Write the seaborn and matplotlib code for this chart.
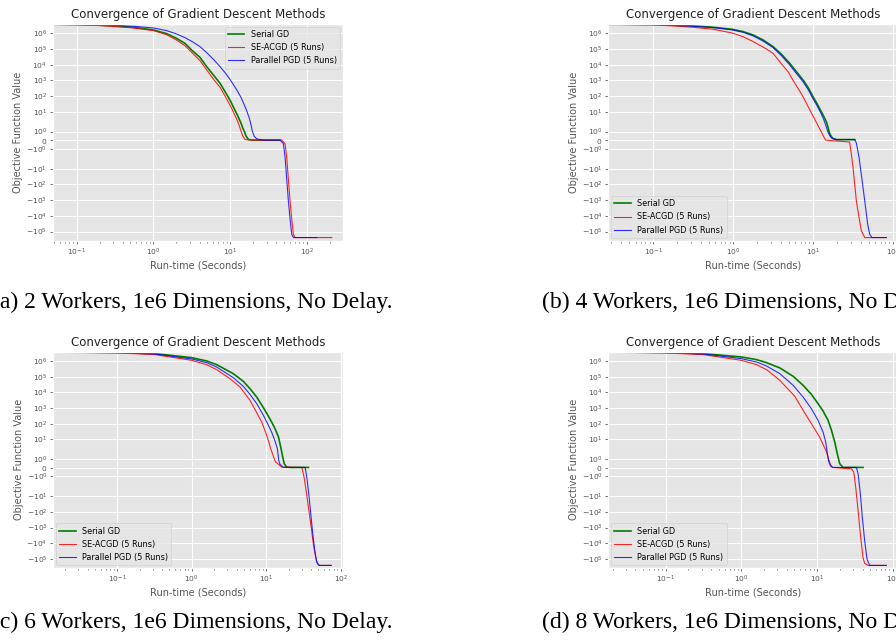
import matplotlib
matplotlib.use("Agg")
import matplotlib.pyplot as plt
import seaborn as sns

plt.style.use("ggplot")
plt.rcParams["font.family"] = ["DejaVu Sans"]

TITLE = "Convergence of Gradient Descent Methods"
XLABEL = "Run-time (Seconds)"
YLABEL = "Objective Function Value"
METHODS = ["Serial GD", "SE-ACGD (5 Runs)", "Parallel PGD (5 Runs)"]
CAPTIONS = ["(a) 2 Workers, 1e6 Dimensions, No Delay.",
            "(b) 4 Workers, 1e6 Dimensions, No Delay.",
            "(c) 6 Workers, 1e6 Dimensions, No Delay.",
            "(d) 8 Workers, 1e6 Dimensions, No Delay."]

# ---- panel (a): 2 workers ----
a_serial_t = [0.0487, 0.1, 0.201, 0.316, 0.548, 1.0, 1.49, 2.0, 2.58, 3.16, 4.06, 4.97, 6.08, 7.43, 8.62,
              10.0, 11.3, 12.5, 13.9, 14.7, 15.4, 16.2, 17.4, 20.1, 44.8]
a_serial_v = [3.7e6, 3.57e6, 3.24e6, 2.94e6, 2.41e6, 1.63e6, 9.5e5, 4.8e5, 2.3e5, 8.6e4, 2.9e4, 7.4e3, 2.19e3,
              644, 189, 55.6, 16.3, 6.1, 1.96, 1.37, 0.98, 0.47, 0.08, 0.02, 0.02]
a_seacgd_t = [0.0487, 0.1, 0.201, 0.316, 0.548, 1.0, 1.49, 2.0, 2.58, 3.16, 4.06, 4.97, 6.08, 7.43, 8.62,
              10.0, 11.3, 12.5, 13.3, 13.9, 14.7, 15.7, 20.1, 47.2, 52.2, 54.8, 57.6, 60.6, 63.7, 67.0, 70.5, 212]
a_seacgd_v = [3.7e6, 3.4e6, 3.1e6, 2.67e6, 2.19e6, 1.48e6, 8.2e5, 3.75e5, 1.63e5, 6.1e4, 1.8e4, 4.6e3, 1.2e3,
              357, 100, 26.7, 7.8, 2.67, 1.57, 1.06, 0.47, 0.08, 0.02, 0.02, -0.39, -1.96, -46, -1110, -1.6e4,
              -1.49e5, -2.4e5, -2.4e5]
a_ppgd_t = [0.0487, 0.1, 0.201, 0.316, 0.548, 1.0, 1.49, 2.0, 2.58, 3.16, 4.06, 4.97, 6.08, 7.43, 8.62,
            10.0, 11.3, 12.5, 13.9, 15.2, 16.5, 17.9, 18.8, 19.5, 20.6, 22.3, 27.2, 44.8, 49.6, 52.2, 54.8,
            57.6, 60.6, 63.7, 67.0, 135]
a_ppgd_v = [3.7e6, 3.68e6, 3.57e6, 3.24e6, 2.8e6, 2.19e6, 1.48e6, 9.1e5, 5.3e5, 3.1e5, 1.41e5, 5.8e4, 2.19e4,
            7.4e3, 3.1e3, 1.16e3, 457, 208, 82, 30.8, 11.6, 3.75, 1.76, 1.06, 0.47, 0.16, 0.02, 0.02, -0.39,
            -1.96, -46, -1110, -1.6e4, -1.49e5, -2.4e5, -2.4e5]

# ---- panel (b): 4 workers ----
b_serial_t = [0.0274, 0.1, 0.178, 0.316, 0.562, 0.97, 1.33, 1.78, 2.37, 3.16, 4.02, 5.11, 6.19, 7.5, 8.66,
              10.0, 11.3, 12.7, 13.7, 14.7, 15.4, 15.85, 16.5, 17.5, 19.6, 33.2]
b_serial_v = [3.7e6, 3.57e6, 3.24e6, 2.94e6, 2.41e6, 1.8e6, 1.28e6, 7.8e5, 3.75e5, 1.41e5, 4.6e4, 1.22e4,
              3.6e3, 1.05e3, 357, 91, 30.8, 10, 4.8, 2.3, 1.49, 0.98, 0.59, 0.24, 0.08, 0.08]
b_seacgd_t = [0.0274, 0.1, 0.178, 0.316, 0.562, 0.97, 1.33, 1.78, 2.61, 3.16, 4.1, 4.87, 5.62, 6.49, 7.5,
              8.66, 10.0, 11.3, 12.7, 13.7, 14.4, 28.7, 30.1, 31.6, 34.8, 37.6, 40.2, 44.3, 82.5]
b_seacgd_v = [3.7e6, 3.4e6, 2.94e6, 2.41e6, 1.8e6, 1.05e6, 6.1e5, 2.94e5, 1e5, 5.3e4, 1e4, 3.6e3, 1e3, 308,
              91, 21.9, 5.3, 1.84, 0.94, 0.35, 0.02, -0.2, -1.57, -8.3, -1110, -1.29e4, -9.1e4, -2.4e5, -2.4e5]
b_ppgd_t = [0.0274, 0.1, 0.178, 0.316, 0.562, 0.97, 1.33, 1.78, 2.37, 3.16, 4.02, 5.11, 6.19, 7.5, 8.66,
            10.0, 11.3, 12.7, 13.7, 14.7, 15.4, 16.5, 17.5, 19.6, 33.2, 34.8, 37.6, 40.6, 44.3, 48.2, 51.1,
            54.6, 82.5]
b_ppgd_v = [3.7e6, 3.57e6, 3.24e6, 2.8e6, 2.3e6, 1.63e6, 1.16e6, 6.8e5, 3.2e5, 1.22e5, 3.75e4, 9.5e3, 2.8e3,
            822, 267, 67.6, 23, 7.1, 2.94, 1.49, 0.9, 0.39, 0.2, 0.08, 0.08, -0.31, -1.96, -36, -1110, -3.4e4,
            -1.49e5, -2.4e5, -2.4e5]

# ---- panel (c): 6 workers ----
c_serial_t = [0.0135, 0.1, 0.321, 1.0, 1.59, 2.16, 3.61, 4.93, 6.05, 7.45, 9.15, 10.7, 11.8, 13.1, 14.6,
              15.8, 16.6, 17.4, 18.8, 20.9, 36.8]
c_serial_v = [3.7e6, 3.4e6, 2.94e6, 1.63e6, 1e6, 5.8e5, 1.55e5, 5e4, 1.7e4, 5e3, 1.05e3, 294, 128, 48, 14.1,
              2.5, 1.25, 0.47, 0.08, 0.04, 0.04]
c_seacgd_t = [0.0135, 0.1, 0.321, 1.0, 1.59, 2.16, 3.26, 4.44, 6.05, 8.69, 10.15, 11.5, 12.5, 13.3, 14.6,
              16.1, 30.0, 32.2, 34.3, 36.8, 39.6, 42.9, 46.6, 50.1, 74.3]
c_seacgd_v = [3.7e6, 3.24e6, 2.54e6, 1.1e6, 5.8e5, 2.8e5, 7.4e4, 2.19e4, 3.1e3, 128, 18, 2.54, 1.25, 0.67,
              0.39, 0.08, 0.04, -1.1, -4.6, -53, -616, -1.17e4, -1.06e5, -2.6e5, -2.6e5]
c_ppgd_t = [0.0135, 0.1, 0.321, 1.0, 1.59, 2.16, 3.61, 4.93, 6.05, 7.45, 9.15, 10.7, 11.8, 13.1, 14.1,
            14.7, 15.3, 17.0, 33.2, 35.0, 37.2, 39.6, 42.1, 44.8, 47.6, 51.8, 74.3]
c_ppgd_v = [3.7e6, 3.4e6, 2.8e6, 1.34e6, 7.8e5, 4.1e5, 8.6e4, 2.4e4, 7.4e3, 1.9e3, 340, 78, 29, 7.8, 2.54,
            0.86, 0.39, 0.04, 0.04, -1.1, -7.5, -142, -2.7e3, -3.1e4, -1.73e5, -2.6e5, -2.6e5]

# ---- panel (d): 8 workers ----
d_serial_t = [0.0175, 0.1, 0.314, 1.0, 1.585, 2.15, 3.22, 4.83, 6.54, 8.41, 10.3, 12.0, 13.96, 15.5, 17.1,
              18.0, 18.9, 19.9, 22.0, 40.4]
d_serial_v = [3.7e6, 3.4e6, 2.94e6, 1.8e6, 1.22e6, 7.8e5, 3.6e5, 1.05e5, 2.8e4, 7.4e3, 1.9e3, 644, 163, 37.5,
              6.8, 2.19, 1.25, 0.47, 0.04, 0.04]
d_seacgd_t = [0.0175, 0.1, 0.314, 1.0, 1.585, 2.15, 3.22, 5.07, 6.54, 8.41, 10.8, 13.3, 14.7, 15.9, 28.4,
              30.5, 32.4, 34.8, 37.3, 40.4, 42.5, 47.1, 82.1]
d_seacgd_v = [3.7e6, 3.24e6, 2.54e6, 1.1e6, 5.8e5, 2.8e5, 5.8e4, 5.6e3, 710, 100, 14.1, 1.84, 0.55, 0.04,
              -0.12, -0.51, -2.8, -87, -2.7e3, -8.3e4, -1.9e5, -2.6e5, -2.6e5]
d_ppgd_t = [0.0175, 0.1, 0.314, 1.0, 1.585, 2.15, 3.22, 4.83, 6.54, 8.41, 10.3, 12.0, 13.0, 13.55, 14.1,
            15.0, 16.3, 33.0, 34.8, 37.3, 39.6, 42.5, 45.7, 49.5, 82.1]
d_ppgd_v = [3.7e6, 3.4e6, 2.8e6, 1.41e6, 8.6e5, 4.8e5, 1.55e5, 2.8e4, 5e3, 906, 163, 29, 6.8, 1.84, 0.86,
            0.2, 0.04, 0.04, -0.7, -7.5, -232, -7.1e3, -1.06e5, -2.6e5, -2.6e5]

X_LIMITS = [(0.0487, 297), (0.0274, 114.5), (0.01376, 107), (0.0175, 116)]
Y_LIMITS = (-3.8e5, 3.9e6)
LEGEND_LOC = ["upper right", "lower left", "lower left", "lower left"]

panels = [
    [(a_serial_t, a_serial_v), (a_seacgd_t, a_seacgd_v), (a_ppgd_t, a_ppgd_v)],
    [(b_serial_t, b_serial_v), (b_seacgd_t, b_seacgd_v), (b_ppgd_t, b_ppgd_v)],
    [(c_serial_t, c_serial_v), (c_seacgd_t, c_seacgd_v), (c_ppgd_t, c_ppgd_v)],
    [(d_serial_t, d_serial_v), (d_seacgd_t, d_seacgd_v), (d_ppgd_t, d_ppgd_v)],
]

W, H = 896, 640
fig = plt.figure(figsize=(W / 100, H / 100), dpi=100)
fig.patch.set_facecolor("white")

# axes rectangles in pixels: left, top, right, bottom
rects_px = [(52.7, 24, 343, 240.7), (608.3, 24, 897.7, 240.7),
            (53, 351.7, 343, 568), (608.3, 351.7, 897.7, 568)]
caption_px = [(-8, 308), (542, 308), (-8, 628), (542, 628)]

styles = [("green", 1.2, 1.0), ("red", 0.8, 0.85), ("blue", 0.8, 0.8)]

for i, (rp, series) in enumerate(zip(rects_px, panels)):
    l, t, r, b = rp
    ax = fig.add_axes([l / W, 1 - b / H, (r - l) / W, (b - t) / H])
    for name, (xs, ys), (col, lw, al) in zip(METHODS, series, styles):
        sns.lineplot(x=xs, y=ys, ax=ax, color=col, lw=lw, alpha=al,
                     label=name, sort=False, estimator=None)
    ax.set_xscale("log")
    ax.set_yscale("symlog")
    ax.set_xlim(*X_LIMITS[i])
    ax.set_ylim(*Y_LIMITS)
    ax.set_title(TITLE, fontsize=8.5, pad=4, color="#222222")
    ax.set_xlabel(XLABEL, fontsize=7, color="#555555", labelpad=2)
    ax.set_ylabel(YLABEL, fontsize=7, color="#555555", labelpad=2)
    ax.tick_params(axis="both", which="major", labelsize=5.4, length=2.5,
                   width=0.6, pad=1.5, colors="#555555")
    ax.tick_params(axis="both", which="minor", length=1.5, width=0.5,
                   colors="#555555")
    ax.grid(True, which="major", color="white", lw=0.8)
    ax.legend(loc=LEGEND_LOC[i], fontsize=5.9, borderaxespad=0.35)
    cx, cy = caption_px[i]
    fig.text(cx / W, 1 - cy / H, CAPTIONS[i], family=["Liberation Serif"],
             fontsize=17, ha="left", va="baseline", color="black")

fig.savefig("out.png", dpi=100)
